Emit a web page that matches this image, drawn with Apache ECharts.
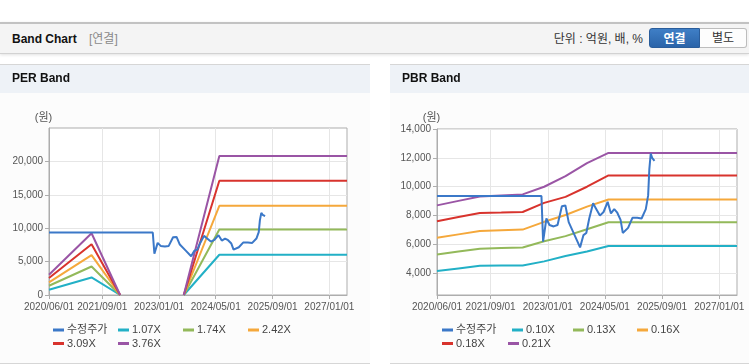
<!DOCTYPE html>
<html><head><meta charset="utf-8">
<script src="https://cdn.jsdelivr.net/npm/echarts@6/dist/echarts.min.js"></script>
<style>
html,body{margin:0;padding:0;width:749px;height:364px;overflow:hidden;background:#fff;font-family:'Liberation Sans','Noto Sans CJK KR',sans-serif;}
.abs{position:absolute;}
#hdr{left:0;top:22px;width:749px;height:29px;background:#f4f4f4;border-top:2px solid #c2c2c2;border-bottom:1px solid #d2d2d2;box-shadow:0 1px 3px rgba(0,0,0,0.12);}
#ttl{left:12px;top:31px;line-height:16px;font-size:12px;font-weight:bold;color:#111;}
#sub{left:89px;top:31px;line-height:16px;font-size:12px;color:#8a8a8a;}
#unit{right:106px;top:31px;line-height:16px;font-size:12px;color:#333;}
#b1{left:649px;top:28px;width:51px;height:20px;line-height:20px;text-align:center;font-size:12px;font-weight:bold;color:#fff;background:linear-gradient(#3f7fc6,#2a64a9);border:1px solid #2a5d9b;border-radius:3px 0 0 3px;box-sizing:border-box;}
#b2{left:700px;top:28px;width:47px;height:20px;line-height:18px;text-align:center;font-size:12px;color:#333;background:#fdfdfd;border:1px solid #bdbdbd;border-left:none;border-radius:0 3px 3px 0;box-sizing:border-box;}
.panel{top:64px;height:298px;background:#fcfcfc;border-top:1px solid #d6d6d6;border-bottom:1px solid #d6d6d6;}
.ph{position:absolute;left:0;top:0;width:100%;height:28px;background:#eef2f7;}
#pl{left:0;width:370px;}
#pr{left:390px;width:359px;}
#cl{left:0;top:64px;width:370px;height:300px;}
#cr{left:390px;top:64px;width:359px;height:300px;}
</style></head>
<body>
<div id="hdr" class="abs"></div>
<div id="ttl" class="abs">Band Chart</div>
<div id="sub" class="abs">[연결]</div>
<div id="unit" class="abs">단위 : 억원, 배, %</div>
<div id="b1" class="abs">연결</div>
<div id="b2" class="abs">별도</div>
<div id="pl" class="abs panel"><div class="ph"></div></div>
<div id="pr" class="abs panel"><div class="ph"></div></div>
<div id="cl" class="abs"></div>
<div id="cr" class="abs"></div>
<script>
// ---- data ----
const xTickLabels = ['2020/06/01','2021/09/01','2023/01/01','2024/05/01','2025/09/01','2027/01/01'];
const xMin = '2020/06/01';
const xMax = '2027/06/01';

const priceDates = ['2020/06/01','2022/11/08','2022/11/22','2022/12/20','2023/01/15','2023/02/20','2023/03/25','2023/05/01','2023/05/31','2023/06/28','2023/08/20','2023/10/03','2023/11/01','2023/11/25','2023/12/20','2024/01/22','2024/02/15','2024/03/20','2024/04/20','2024/05/25','2024/06/22','2024/07/20','2024/08/15','2024/09/12','2024/10/01','2024/11/15','2024/12/22','2025/02/01','2025/03/10','2025/04/15','2025/05/05','2025/05/15','2025/05/27','2025/06/08','2025/06/14','2025/06/28'];
const priceValues = [9350,9350,6200,7800,7350,7250,7350,8650,8700,7550,6600,5800,6650,6800,7800,8850,8500,8000,8250,8950,8150,8450,8200,7700,6800,7150,7850,7850,7800,8450,9400,11200,12300,12000,12100,11800];

const perNames = ['1.07X','1.74X','2.42X','3.09X','3.76X'];
const perDates = ['2020/06/01','2021/06/01','2022/02/01','2022/11/01','2023/08/01','2024/06/01','2027/06/01'];
const per107 = [790, 2630, 0, null, 0, 6030, 6030];
const per174 = [1390, 4270, 0, null, 0, 9800, 9800];
const per242 = [1880, 5970, 0, null, 0, 13350, 13350];
const per309 = [2540, 7610, 0, null, 0, 17100, 17100];
const per376 = [3030, 9250, 0, null, 0, 20800, 20800];
const perYTicks = [0, 5000, 10000, 15000, 20000];

const pbrNames = ['0.10X','0.13X','0.16X','0.18X','0.21X'];
const pbrDates = ['2020/06/01','2020/12/01','2021/06/01','2021/12/01','2022/06/01','2022/12/01','2023/06/01','2023/12/01','2024/06/01','2027/06/01'];
const pbr010 = [4160, 4340, 4520, 4540, 4550, 4830, 5200, 5510, 5900, 5900];
const pbr013 = [5310, 5510, 5700, 5750, 5790, 6220, 6580, 7060, 7540, 7540];
const pbr016 = [6460, 6700, 6940, 6990, 7030, 7570, 8040, 8620, 9120, 9120];
const pbr018 = [7610, 7900, 8180, 8210, 8250, 8880, 9300, 10000, 10780, 10780];
const pbr021 = [8710, 9020, 9330, 9400, 9470, 10000, 10730, 11640, 12340, 12340];
const pbrYTicks = [4000, 6000, 8000, 10000, 12000, 14000];

// ---- styling ----
const priceColor = '#3b78c8';
const bandColors = ['#22b0c6', '#93b95a', '#f5a83b', '#d8332d', '#9a55a5'];
const FONT = "'Liberation Sans','Noto Sans CJK KR',sans-serif";
const ts = d => +new Date(d);
const pad = n => (n < 10 ? '0' : '') + n;
const fmtDate = v => { const d = new Date(v); return d.getFullYear() + '/' + pad(d.getMonth() + 1) + '/' + pad(d.getDate()); };
const fmtNum = v => String(v).replace(/\B(?=(\d{3})+(?!\d))/g, ',');
const pairs = (dates, vals) => dates.map((d, i) => [ts(d), vals[i]]);

function buildOption(cfg) {
  const names = ['수정주가'].concat(cfg.names);
  const series = [{
    name: '수정주가', type: 'line', data: pairs(priceDates, priceValues),
    showSymbol: false, z: 5, lineStyle: {width: 2, color: priceColor}, itemStyle: {color: priceColor}
  }];
  cfg.bands.forEach((b, i) => series.push({
    name: cfg.names[i], type: 'line', data: pairs(cfg.dates, b),
    showSymbol: false, connectNulls: false, z: 3,
    lineStyle: {width: 2, color: bandColors[i]}, itemStyle: {color: bandColors[i]}
  }));
  const legend = names.map((n, i) => ({
    data: [n], left: cfg.legendPos[i][0], top: cfg.legendPos[i][1],
    icon: 'rect', itemWidth: 11, itemHeight: 3, selectedMode: false, padding: 0,
    textStyle: {fontSize: 11, color: '#444', fontFamily: FONT, lineHeight: 14, padding: [0, 0, 0, -2]}
  }));
  const xTicks = xTickLabels.map(ts);
  return {
    animation: false,
    textStyle: {fontFamily: FONT},
    title: {text: cfg.title, left: 12, top: 9, padding: 0, textStyle: {fontSize: 12, fontWeight: 'bold', color: '#111', fontFamily: FONT}},
    legend: legend,
    grid: {left: cfg.grid[0], top: cfg.grid[1], width: cfg.grid[2], height: cfg.grid[3], show: true, borderColor: '#adadad', borderWidth: 1, backgroundColor: '#ffffff'},
    xAxis: {
      type: 'value', min: ts(xMin), max: ts(xMax),
      axisLine: {lineStyle: {color: '#adadad'}},
      axisTick: {show: true, length: 4, lineStyle: {color: '#adadad'}, customValues: xTicks},
      axisLabel: {customValues: xTicks, formatter: fmtDate, fontSize: 10, color: '#555', margin: 7, hideOverlap: false, showMinLabel: true, showMaxLabel: true},
      splitLine: {show: true, lineStyle: {color: '#e6e6e6'}}
    },
    yAxis: {
      type: 'value', min: cfg.yMin, max: cfg.yMax,
      name: '(원)', nameLocation: 'end', nameGap: cfg.nameGap,
      nameTextStyle: {fontSize: 11, color: '#555', align: 'center', verticalAlign: 'middle', padding: [0, 11, 0, 0]},
      axisLine: {show: true, lineStyle: {color: '#adadad'}},
      axisTick: {show: true, length: 4, lineStyle: {color: '#adadad'}, customValues: cfg.yTicks},
      axisLabel: {customValues: cfg.yTicks, formatter: fmtNum, fontSize: 10, color: '#555', margin: 6},
      splitLine: {show: true, lineStyle: {color: '#e6e6e6'}}
    },
    series: series
  };
}

const perChart = echarts.init(document.getElementById('cl'), null, {renderer: 'canvas'});
perChart.setOption(buildOption({
  title: 'PER Band', names: perNames, dates: perDates,
  bands: [per107, per174, per242, per309, per376],
  grid: [49, 64, 298, 167], yMin: 0, yMax: 25000, yTicks: perYTicks, nameGap: 10,
  legendPos: [[53, 259], [118, 259], [183, 259], [248, 259], [53, 272.5], [118, 272.5]]
}));

const pbrChart = echarts.init(document.getElementById('cr'), null, {renderer: 'canvas'});
pbrChart.setOption(buildOption({
  title: 'PBR Band', names: pbrNames, dates: pbrDates,
  bands: [pbr010, pbr013, pbr016, pbr018, pbr021],
  grid: [47, 65, 300, 166], yMin: 2500, yMax: 14000, yTicks: pbrYTicks, nameGap: 11.5,
  legendPos: [[52, 259], [122, 259], [183, 259], [247, 259], [52, 272.5], [118, 272.5]]
}));
</script>
</body></html>
